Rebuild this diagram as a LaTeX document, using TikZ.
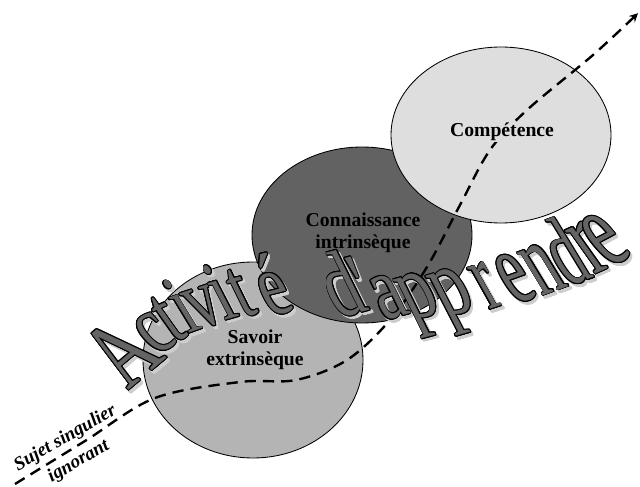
\documentclass[tikz,border=0pt]{standalone}
\usepackage{fontspec}
\setmainfont{Liberation Serif}
\newfontfamily\artfont[FakeStretch=0.7, FakeSlant=-0.2]{Liberation Serif}
\newfontfamily\artnarrow[FakeStretch=0.56, FakeSlant=-0.2]{Liberation Serif}
\usepackage{contour}
\contourlength{0.6pt}
\usepackage{tikz}
\usetikzlibrary{positioning, shapes.geometric}

\definecolor{savoirgray}{RGB}{180,180,180}
\definecolor{connaissgray}{RGB}{98,98,98}
\definecolor{competgray}{RGB}{222,222,222}
\definecolor{lettergray}{RGB}{100,100,100}
\definecolor{shadowgray}{RGB}{205,205,205}

\newcommand{\artletter}[1]{\contour{black}{\textcolor{lettergray}{#1}}}
\newcommand{\shadowletter}[1]{\contour{shadowgray}{\textcolor{shadowgray}{#1}}}

\begin{document}
\begin{tikzpicture}[blob/.style = {ellipse, draw = black, line width = 0.6pt,
                       minimum width = 5.5cm, minimum height = 4.4cm, inner sep = 0pt},
    tag/.style = {align = center, font = \bfseries\fontsize{14}{16}\selectfont, inner sep = 1pt},
    trail/.style = {dashed, dash pattern = on 8pt off 5pt, line width = 1.7pt, ->, >=stealth},
    letter/.style = {anchor = base, inner sep = 0pt}]
      \useasboundingbox (0,0) rectangle (16,12.15);

      \node[blob, fill = savoirgray, minimum height = 4.9cm] (savoir) at (6.325,3.15) {};
      \node[blob, fill = connaissgray] (connaiss) at (9.05,6.275) {};
      \node[blob, fill = competgray] (compet) at (12.525,8.775) {};

      \coordinate (start) at (0.375,0.05);
      \coordinate (goal) at (15.95,11.82);
      \draw[trail] plot[smooth, tension = 0.55] coordinates {(start) (2.125,1.125) (3.875,2.2)
          (6.0,2.6) (7.4,2.65) (8.675,3.15) (9.75,4.15) (10.675,5.475) (11.5,7.025)
          (12.25,8.4) (13.175,9.4) (14.825,10.775) (goal)};

      \node[tag] (savoirtext) at (6.375,3.4) {Savoir\\extrinsèque};
      \node[tag] (connaisstext) at (9.075,6.325) {Connaissance\\intrinsèque};
      \node[tag, fill = competgray] (competext) at (12.55,8.85) {Compétence};

      \node[align = center, rotate = 30, inner sep = 0pt,
            font = \bfseries\itshape\fontsize{13.5}{19}\selectfont] (sujet) at (1.8,0.9)
            {Sujet singulier\\ignorant};

      % Activite d'apprendre
      \foreach \ch/\x/\y/\r/\s/\f [count = \i] in {A/3.7/2.8/40/72/\artfont,
          c/4.2/3.425/30/62/\artfont, t/4.55/3.675/24/62/\artfont, i/4.9/3.875/20/62/\artfont,
          v/5.35/4.025/18/62/\artfont, i/5.825/4.2/16/62/\artfont, t/6.3/4.275/15/62/\artfont,
          é/7.1/4.325/14/64/\artfont, d/8.875/4.3/15/68/\artfont, '/9.4/4.275/15/68/\artfont,
          a/9.95/4.225/15/66/\artfont, p/10.7/4.25/15/68/\artfont, p/11.55/4.325/16/70/\artfont,
          r/12.45/4.475/18/72/\artnarrow, e/13.2/4.65/20/76/\artnarrow,
          n/13.9/4.875/20/76/\artnarrow, d/14.55/5.1/20/72/\artnarrow,
          r/15.1/5.4/24/80/\artnarrow, e/15.55/5.625/28/82/\artnarrow}
      {
        \node[letter, rotate = \r, font = \f\fontsize{\s}{\s}\selectfont]
            at ({\x+0.06},{\y-0.07}) {\shadowletter{\ch}};
        \node[letter, rotate = \r, font = \f\fontsize{\s}{\s}\selectfont]
            (l\i) at (\x,\y) {\artletter{\ch}};
      }
    \end{tikzpicture}
\end{document}
